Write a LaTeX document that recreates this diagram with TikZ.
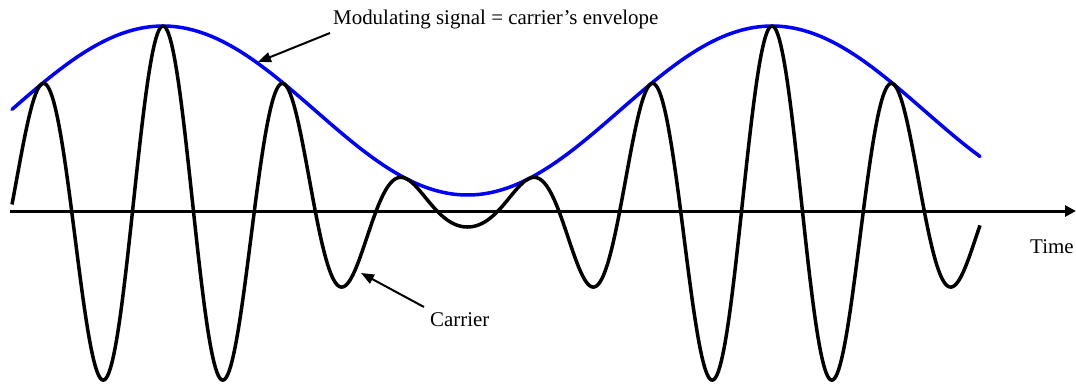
\documentclass[tikz,border=0pt]{standalone}
\usepackage{fontspec}
\setmainfont{Liberation Serif}
\usetikzlibrary{arrows.meta}

\begin{document}
\begin{tikzpicture}[
    x=1bp, y=-1bp,
    labeltext/.style={anchor=base west, inner sep=0pt,
                      font=\fontsize{21}{25}\selectfont},
    envelope/.style={blue, line width=3.5bp, line cap=round},
    carrier/.style={black, line width=3.5bp, line join=round},
    timeaxis/.style={line width=3bp, -{Triangle[length=11bp, width=11bp]}},
    pointer/.style={line width=2bp, -{Triangle[length=13bp, width=10bp]}}
]
\useasboundingbox (0,0) rectangle (1076,385);

% Time axis
\coordinate (t0) at (10,211);
\coordinate (t1) at (1076,211);
\draw[timeaxis] (t0) -- (t1);

% Modulating signal (envelope) and carrier
\draw[envelope] plot[domain=12:980, samples=300]
    (\x, {211-(100.5+84.5*cos((\x-163)*0.591133))});
\draw[carrier] plot[domain=12:980, samples=700]
    (\x, {211-(100.5+84.5*cos((\x-163)*0.591133))*cos((\x-163)*2.955665)});

% Labels
\node[labeltext] (modtext) at (333,24) {Modulating signal = carrier's envelope};
\node[labeltext] (cartext) at (430,326) {Carrier};
\node[labeltext] (timetext) at (1030,253) {Time};

% Pointers
\coordinate (envtail) at (330,33);
\coordinate (envtip) at (258,62);
\coordinate (cartail) at (424,307);
\coordinate (cartip) at (361,273);
\draw[pointer] (envtail) -- (envtip);
\draw[pointer] (cartail) -- (cartip);

\end{tikzpicture}
\end{document}
